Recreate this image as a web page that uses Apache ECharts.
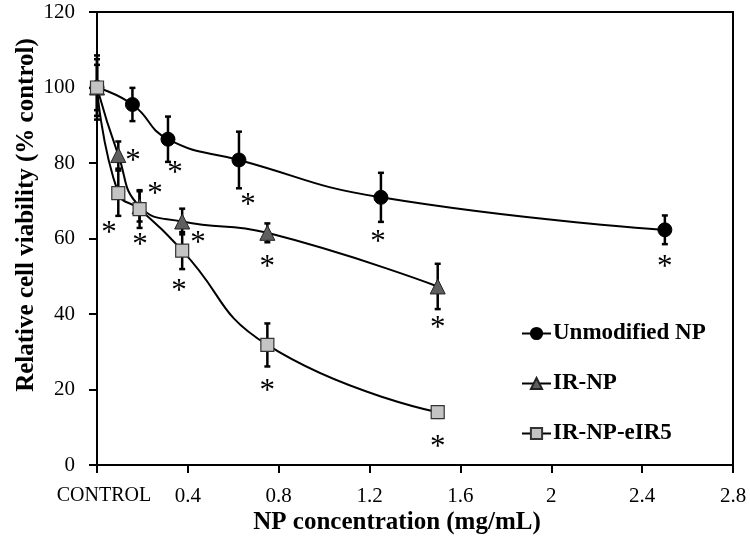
<!DOCTYPE html>
<html>
<head>
<meta charset="utf-8">
<script src="https://cdn.jsdelivr.net/npm/echarts@6/dist/echarts.min.js"></script>
<style>html,body{margin:0;padding:0;background:#fff}#c{width:750px;height:545px}</style>
</head>
<body>
<div id="c"></div>
<script>
// ---- data ----
var seriesNames = ['Unmodified NP', 'IR-NP', 'IR-NP-eIR5'];
var xUnmod = [0, 0.156, 0.3125, 0.625, 1.25, 2.5];
var yUnmod = [100, 95.5, 86.3, 80.8, 70.9, 62.3];
var eUnmod = [8.5, 4.4, 6.0, 7.5, 6.5, 3.8];
var xIR = [0, 0.09375, 0.1875, 0.375, 0.75, 1.5];
var yIR = [100, 82.1, 68.5, 64.5, 61.5, 47.3];
var eIR = [7.5, 3.6, 4.0, 3.4, 2.5, 6.0];
var xEIR5 = [0, 0.09375, 0.1875, 0.375, 0.75, 1.5];
var yEIR5 = [100, 72.0, 67.8, 56.8, 31.8, 14.0];
var eEIR5 = [6.0, 6.0, 5.0, 4.9, 5.7, 1.5];
// significance asterisks [x, y]
var starX = [0.159, 0.343, 0.255, 0.053, 0.189, 0.445, 0.361, 0.665, 0.75, 1.237, 0.75, 1.5, 1.5, 2.5];
var starY = [82.1, 78.9, 73.4, 63.0, 59.9, 60.4, 47.7, 70.5, 54.0, 60.7, 21.2, 37.9, 6.4, 54.0];
var xTicks = [0, 0.4, 0.8, 1.2, 1.6, 2, 2.4, 2.8];
var xTickLabels = ['CONTROL', '0.4', '0.8', '1.2', '1.6', '2', '2.4', '2.8'];

var FONT = 'Liberation Serif';
function pairs(xs, ys) { return xs.map(function (x, i) { return [x, ys[i]]; }); }
function errData(xs, ys, es) { return xs.map(function (x, i) { return [x, ys[i] - es[i], ys[i] + es[i]]; }); }
function errSeries(xs, ys, es) {
  return {
    type: 'custom', z: 1, silent: true,
    data: errData(xs, ys, es),
    encode: { x: 0, y: [1, 2] },
    renderItem: function (params, api) {
      var lo = api.coord([api.value(0), api.value(1)]);
      var hi = api.coord([api.value(0), api.value(2)]);
      var w = 3;
      var st = { stroke: '#000', lineWidth: 2.5 };
      return { type: 'group', children: [
        { type: 'line', shape: { x1: lo[0], y1: lo[1], x2: hi[0], y2: hi[1] }, style: st },
        { type: 'line', shape: { x1: lo[0] - w, y1: lo[1], x2: lo[0] + w, y2: lo[1] }, style: st },
        { type: 'line', shape: { x1: hi[0] - w, y1: hi[1], x2: hi[0] + w, y2: hi[1] }, style: st }
      ]};
    }
  };
}

var chart = echarts.init(document.getElementById('c'));
chart.setOption({
  animation: false,
  backgroundColor: '#fff',
  grid: { left: 97, right: 17, top: 12, bottom: 80, show: true, borderColor: '#000', borderWidth: 2 },
  xAxis: {
    type: 'value', min: 0, max: 2.8, interval: 0.4,
    axisLine: { show: true, lineStyle: { color: '#000', width: 2 } },
    axisTick: { show: true, length: 8, lineStyle: { color: '#000', width: 2 } },
    splitLine: { show: false },
    axisLabel: {
      margin: 19, color: '#000', fontFamily: FONT, fontSize: 21, lineHeight: 24,
      formatter: function (v) {
        var i = xTicks.findIndex(function (t) { return Math.abs(t - v) < 1e-6; });
        if (i < 0) return '';
        return i === 0 ? '{c|' + xTickLabels[i] + '}' : xTickLabels[i];
      },
      rich: { c: { fontFamily: FONT, fontSize: 20, lineHeight: 24, color: '#000', padding: [0, 0, 0, 14] } }
    }
  },
  yAxis: {
    type: 'value', min: 0, max: 120, interval: 20,
    axisLine: { show: true, lineStyle: { color: '#000', width: 2 } },
    axisTick: { show: true, length: 8, lineStyle: { color: '#000', width: 2 } },
    splitLine: { show: false },
    axisLabel: { margin: 22, color: '#000', fontFamily: FONT, fontSize: 21 }
  },
  legend: {
    data: seriesNames,
    orient: 'vertical', left: 516, top: 317,
    itemWidth: 29, itemHeight: 14, itemGap: 27,
    textStyle: { fontFamily: FONT, fontWeight: 'bold', fontSize: 23, color: '#000', lineHeight: 23, padding: [0, 0, 0, -3] }
  },
  graphic: [
    { type: 'text', x: 397, y: 523, style: { text: 'NP concentration (mg/mL)', font: 'bold 25px "Liberation Serif"', fill: '#000', align: 'center', verticalAlign: 'middle' } },
    { type: 'text', x: 27, y: 215, rotation: Math.PI / 2, style: { text: 'Relative cell viability (% control)', font: 'bold 25px "Liberation Serif"', fill: '#000', align: 'center', verticalAlign: 'middle' } }
  ],
  series: [
    errSeries(xUnmod, yUnmod, eUnmod),
    errSeries(xIR, yIR, eIR),
    errSeries(xEIR5, yEIR5, eEIR5),
    {
      name: seriesNames[0], type: 'line', z: 3, smooth: 0.5, data: pairs(xUnmod, yUnmod),
      symbol: 'circle', symbolSize: 14,
      lineStyle: { color: '#000', width: 2 },
      itemStyle: { color: '#000', borderColor: '#000', borderWidth: 1 }
    },
    {
      name: seriesNames[1], type: 'line', z: 4, smooth: 0.5, data: pairs(xIR, yIR),
      symbol: 'triangle', symbolSize: 15,
      lineStyle: { color: '#000', width: 2 },
      itemStyle: { color: '#5f5f5f', borderColor: '#222', borderWidth: 1 }
    },
    {
      name: seriesNames[2], type: 'line', z: 5, smooth: 0.5, data: pairs(xEIR5, yEIR5),
      symbol: 'rect', symbolSize: 13,
      lineStyle: { color: '#000', width: 2 },
      itemStyle: { color: '#c4c4c4', borderColor: '#333', borderWidth: 1.2 }
    },
    {
      type: 'custom', z: 6, silent: true,
      data: pairs(starX, starY),
      renderItem: function (params, api) {
        var p = api.coord([api.value(0), api.value(1)]);
        return { type: 'text', x: p[0], y: p[1] + 7, style: { text: '*', font: '31px "Liberation Serif"', fill: '#000', align: 'center', verticalAlign: 'middle' } };
      }
    }
  ]
});
</script>
</body>
</html>
